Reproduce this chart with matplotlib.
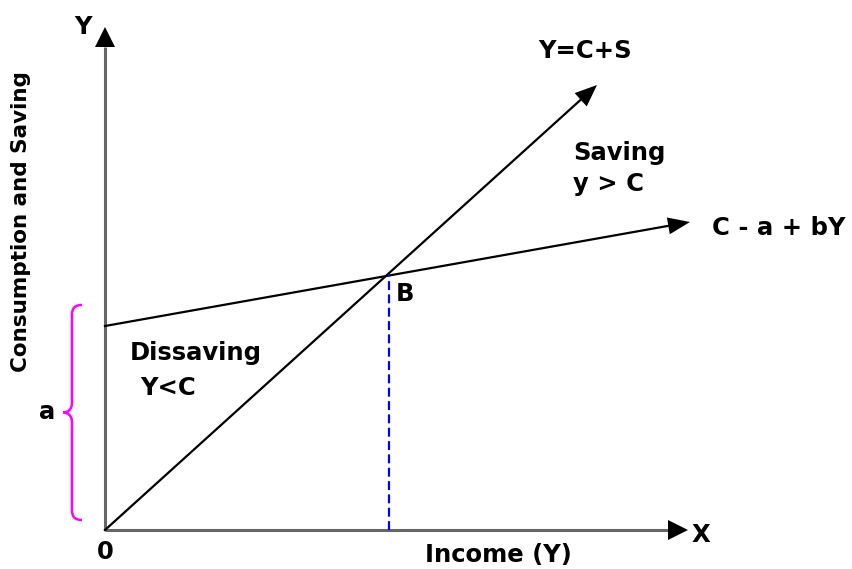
import numpy as np
import matplotlib.pyplot as plt
from matplotlib.path import Path
from matplotlib.patches import PathPatch

# diagram data (units: pixels measured from the origin)
x_axis_end = 583
y_axis_end = 503
ycs_x = [0, 492]          # Y = C + S line
ycs_y = [0, 445]
cons_x = [0, 585]         # C = a + bY line
cons_y = [204, 308]
b_point = (284, 256)
a_low, a_high = 10, 225

plt.rcParams['font.family'] = ['DejaVu Sans']
plt.rcParams['font.weight'] = 'bold'

fig = plt.figure(figsize=(8.53, 5.69), dpi=100)
ax = fig.add_axes([0, 0, 1, 1])
ax.set_xlim(-105, 748)
ax.set_ylim(-39, 530)
ax.set_aspect('equal')
ax.axis('off')


def head(tip, frm, length=20, width=18):
    tip = np.array(tip, float)
    d = tip - np.array(frm, float)
    d = d / np.hypot(*d)
    n = np.array([-d[1], d[0]])
    base = tip - d * length
    pts = np.array([tip, base + n * width / 2, base - n * width / 2])
    ax.fill(pts[:, 0], pts[:, 1], color='black', zorder=5, lw=0)
    return base


# axes
base = head((0, y_axis_end), (0, 0), 20, 20)
ax.plot([0, 0], [0, base[1]], color='#666666', lw=2.2, solid_capstyle='butt')
base = head((x_axis_end, 0), (0, 0), 20, 20)
ax.plot([0, base[0]], [0, 0], color='#666666', lw=2.2, solid_capstyle='butt')

# Y = C + S
base = head((ycs_x[1], ycs_y[1]), (ycs_x[0], ycs_y[0]), 22, 18)
ax.plot([ycs_x[0], base[0]], [ycs_y[0], base[1]], color='black', lw=1.6)

# consumption line
base = head((cons_x[1], cons_y[1]), (cons_x[0], cons_y[0]), 22, 17)
ax.plot([cons_x[0], base[0]], [cons_y[0], base[1]], color='black', lw=1.6)

# dashed drop from B
ax.plot([b_point[0], b_point[0]], [0, b_point[1]], color='#0000ff', lw=1.6,
        ls=(0, (4, 2)))

# brace for a
bx, tx = -33, -42
mid = (a_low + a_high) / 2
verts = [(bx + 10, a_high), (bx + 3, a_high), (bx, a_high - 3), (bx, a_high - 10),
         (bx, mid + 10),
         (bx, mid + 3), (bx - 4, mid), (tx, mid),
         (bx - 4, mid), (bx, mid - 3), (bx, mid - 10),
         (bx, a_low + 10),
         (bx, a_low + 3), (bx + 3, a_low), (bx + 10, a_low)]
codes = [Path.MOVETO, Path.CURVE4, Path.CURVE4, Path.CURVE4,
         Path.LINETO,
         Path.CURVE4, Path.CURVE4, Path.CURVE4,
         Path.CURVE4, Path.CURVE4, Path.CURVE4,
         Path.LINETO,
         Path.CURVE4, Path.CURVE4, Path.CURVE4]
ax.add_patch(PathPatch(Path(verts, codes), fill=False, ec='#ff00ff', lw=1.8))

fs = 17.5
ax.text(-22, 503, 'Y', fontsize=fs, ha='center', va='center')
ax.text(596, -5, 'X', fontsize=fs, ha='center', va='center')
ax.text(0, -22, '0', fontsize=fs, ha='center', va='center')
ax.text(393, -25, 'Income (Y)', fontsize=fs, ha='center', va='center')
ax.text(-84, 308, 'Consumption and Saving', fontsize=15.5, rotation=90,
        ha='center', va='center')
ax.text(-58, 118, 'a', fontsize=fs, ha='center', va='center')
ax.text(b_point[0] + 7, b_point[1] - 20, 'B', fontsize=fs, ha='left', va='center')
ax.text(480, 479, 'Y=C+S', fontsize=fs, ha='center', va='center')
ax.text(468, 377, 'Saving', fontsize=fs, ha='left', va='center')
ax.text(468, 346, 'y > C', fontsize=fs, ha='left', va='center')
ax.text(607, 302, 'C - a + bY', fontsize=fs, ha='left', va='center')
ax.text(25, 177, 'Dissaving', fontsize=fs, ha='left', va='center')
ax.text(35, 142, 'Y<C', fontsize=fs, ha='left', va='center')

fig.savefig('out.png', dpi=100)
